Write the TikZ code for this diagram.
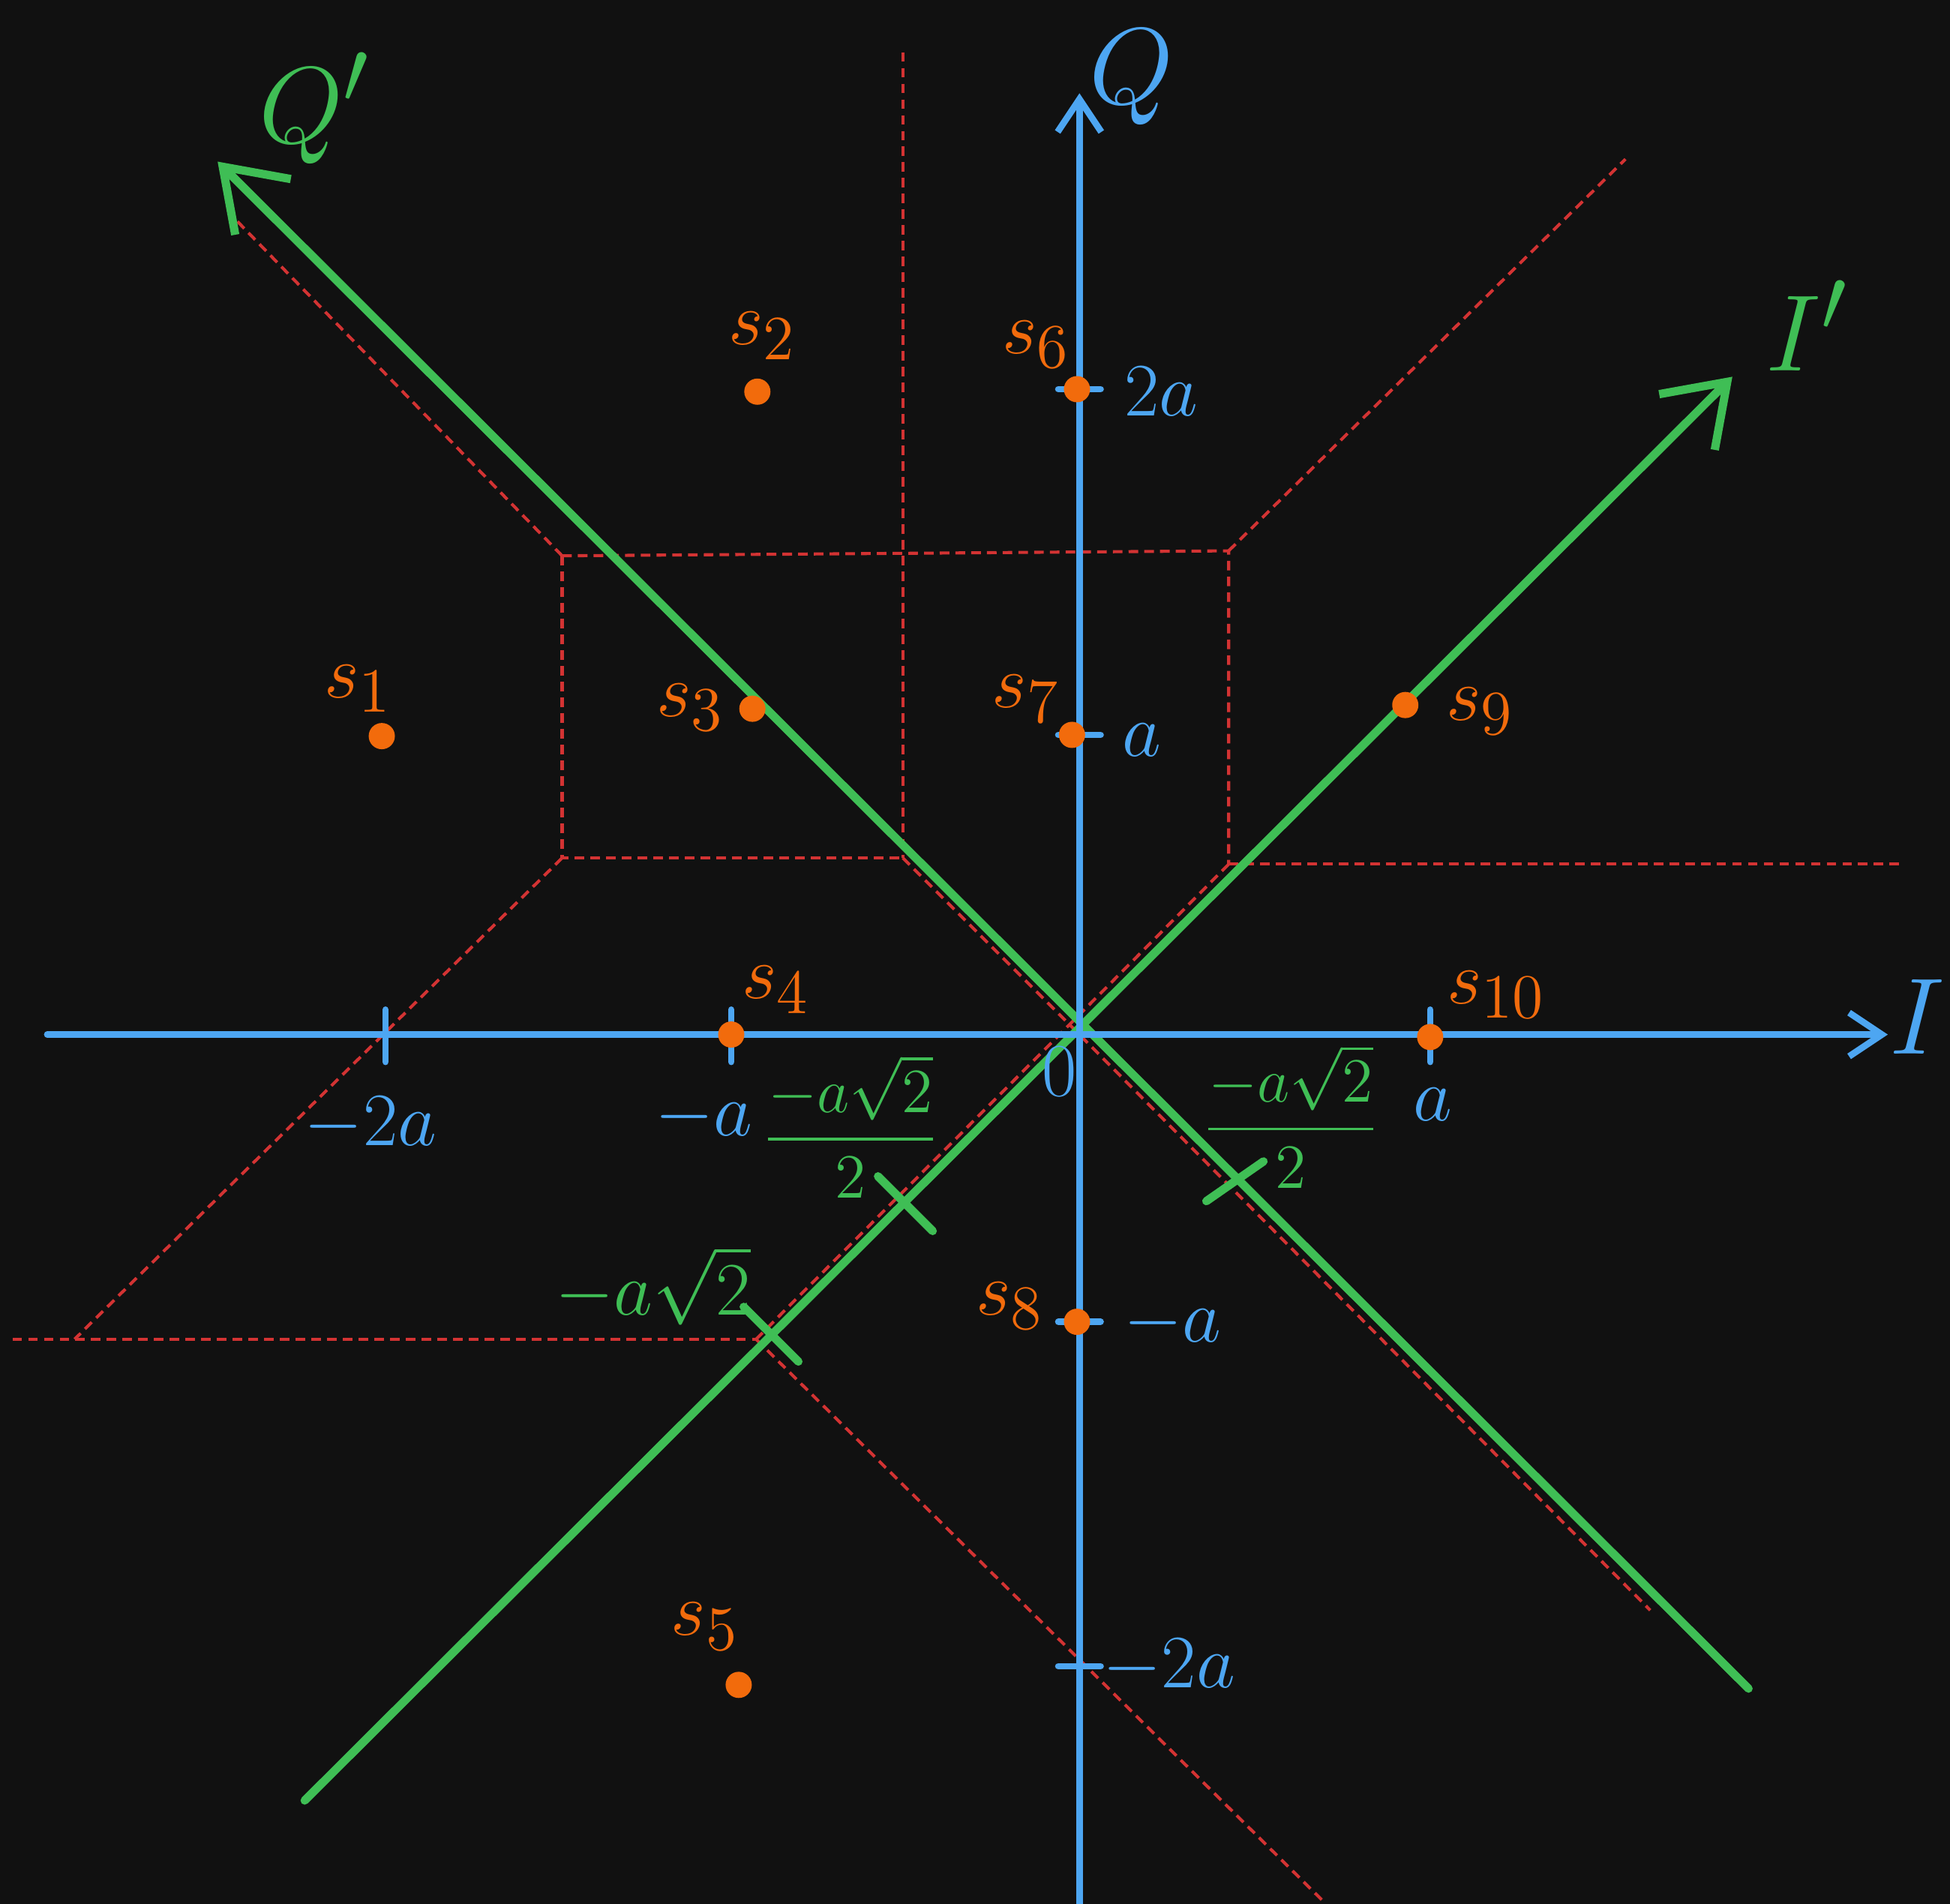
\documentclass[tikz,border=0pt]{standalone}
\usepackage{amsmath}
\usetikzlibrary{arrows.meta,positioning}
\definecolor{BgDark}{HTML}{111111}
\definecolor{AxisBlue}{HTML}{4DA6F2}
\definecolor{RotGreen}{HTML}{3FBE55}
\definecolor{SymOrange}{HTML}{F26B0C}
\definecolor{BoundRed}{HTML}{D33333}
\begin{document}
\begin{tikzpicture}[
  axis/.style={AxisBlue,line width=1.5pt,line cap=round},
  rotaxis/.style={RotGreen,line width=1.9pt,line cap=round},
  bound/.style={BoundRed,line width=0.7pt,dash pattern=on 2.2pt off 1.4pt},
  sym/.style={circle,fill=SymOrange,inner sep=0pt,minimum size=6pt},
  symlab/.style={SymOrange,font=\fontsize{19}{22}\selectfont},
  bluelab/.style={AxisBlue,font=\fontsize{17}{20}\selectfont},
  greenlab/.style={RotGreen,font=\fontsize{15}{18}\selectfont},
  biglab/.style={font=\fontsize{30}{34}\selectfont}
]
  \fill[BgDark] (-8.68,-6.99) rectangle (7.00,8.32);
  \useasboundingbox (-8.68,-6.99) rectangle (7.00,8.32);

  % decision boundaries
  \coordinate (c0) at (-0.08,0.08);
  \coordinate (ul) at (-4.16,3.85);
  \coordinate (um) at (-1.42,3.87);
  \coordinate (ur) at (1.20,3.89);
  \coordinate (ll) at (-4.16,1.42);
  \coordinate (lm) at (-1.42,1.42);
  \coordinate (lr) at (1.20,1.37);
  \coordinate (jn) at (-2.60,-2.45);
  \draw[bound] (-1.42,7.90) -- (um) -- (lm);
  \draw[bound] (ul) -- (um) -- (ur) -- (lr);
  \draw[bound] (ul) -- (ll) -- (lm);
  \draw[bound] (ur) -- (4.39,7.04);
  \draw[bound] (ul) -- (-6.83,6.60);
  \draw[bound] (ll) -- (-8.08,-2.45);
  \draw[bound] (-8.58,-2.45) -- (jn);
  \draw[bound] (lr) -- (6.62,1.37);
  \draw[bound] (lm) -- (c0) -- (4.59,-4.63);
  \draw[bound] (lr) -- (c0) -- (jn);
  \draw[bound] (jn) -- (1.95,-6.96);

  % rotated axes
  \draw[rotaxis,-{Straight Barb[length=13pt,width=18pt]}] (-6.23,-6.16) -- (5.25,5.29);
  \draw[rotaxis,-{Straight Barb[length=13pt,width=18pt]}] (5.38,-5.26) -- (-6.93,7.02);
  \node[RotGreen,biglab] (ip) at (5.85,5.70) {$I'$};
  \node[RotGreen,biglab] (qp) at (-6.15,7.45) {$Q'$};
  \draw[rotaxis] (-1.62,-1.14) -- (-1.18,-1.58);
  \draw[rotaxis] (-2.70,-2.19) -- (-2.26,-2.63);
  \draw[rotaxis] (1.02,-1.34) -- (1.48,-1.02);
  \node[greenlab] (m1) at (-1.84,-0.74) {$\dfrac{-a\sqrt{2}}{2}$};
  \node[greenlab] (m2) at (1.70,-0.66) {$\dfrac{-a\sqrt{2}}{2}$};
  \node[RotGreen,font=\fontsize{17}{20}\selectfont] (m3) at (-3.43,-2.02) {$-a\sqrt{2}$};

  % I and Q axes
  \draw[axis,-{Straight Barb[length=7.5pt,width=10pt]}] (-8.30,0) -- (6.50,0);
  \draw[axis,-{Straight Barb[length=7.5pt,width=10pt]}] (0,-6.99) -- (0,7.57);
  \node[AxisBlue,biglab] (ilab) at (6.74,0.14) {$I$};
  \node[AxisBlue,font=\fontsize{24}{28}\selectfont] (qlab) at (0.42,7.70) {$Q$};
  \foreach \x in {-5.58,-2.80,2.82}
    \draw[axis] (\x,0.2) -- (\x,-0.22);
  \foreach \y in {5.19,2.41,-2.31,-5.08}
    \draw[axis] (-0.17,\y) -- (0.17,\y);
  \node[bluelab] (tm2) at (-5.70,-0.72) {$-2a$};
  \node[bluelab] (tm1) at (-3.02,-0.66) {$-a$};
  \node[bluelab] (tp1) at (2.84,-0.56) {$a$};
  \node[bluelab] (t0) at (-0.16,-0.30) {$0$};
  \node[bluelab] (qp2) at (0.66,5.17) {$2a$};
  \node[bluelab] (qp1) at (0.50,2.37) {$a$};
  \node[bluelab] (qm1) at (0.75,-2.32) {$-a$};
  \node[bluelab] (qm2) at (0.72,-5.08) {$-2a$};

  % signal points
  \node[sym] (s1) at (-5.61,2.40) {};
  \node[sym] (s2) at (-2.59,5.17) {};
  \node[sym] (s3) at (-2.63,2.62) {};
  \node[sym] (s4) at (-2.80,0) {};
  \node[sym] (s5) at (-2.74,-5.23) {};
  \node[sym] (s6) at (-0.02,5.19) {};
  \node[sym] (s7) at (-0.06,2.41) {};
  \node[sym] (s8) at (-0.02,-2.31) {};
  \node[sym] (s9) at (2.62,2.65) {};
  \node[sym] (s10) at (2.82,-0.02) {};
  \node[symlab] (l1) at (-5.80,2.78) {$s_1$};
  \node[symlab] (l2) at (-2.55,5.62) {$s_2$};
  \node[symlab] (l3) at (-3.13,2.63) {$s_3$};
  \node[symlab] (l4) at (-2.44,0.36) {$s_4$};
  \node[symlab] (l5) at (-3.01,-4.76) {$s_5$};
  \node[symlab] (l6) at (-0.35,5.55) {$s_6$};
  \node[symlab] (l7) at (-0.43,2.70) {$s_7$};
  \node[symlab] (l8) at (-0.56,-2.18) {$s_8$};
  \node[symlab] (l9) at (3.22,2.60) {$s_9$};
  \node[symlab] (l10) at (3.35,0.32) {$s_{10}$};
\end{tikzpicture}
\end{document}
